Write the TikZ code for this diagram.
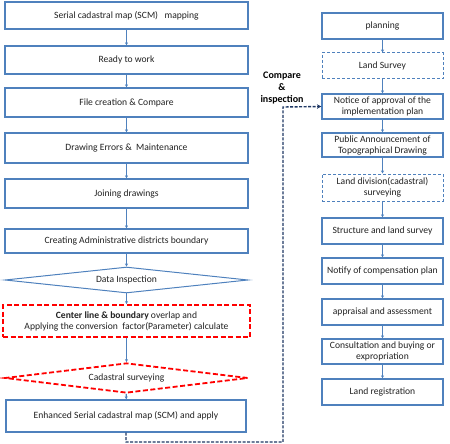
\documentclass[tikz,border=0pt]{standalone}
\usepackage{fontspec}
\setmainfont{Carlito}
\usetikzlibrary{shapes.geometric,arrows.meta}
\definecolor{boxblue}{HTML}{4F81BD}
\definecolor{navy}{HTML}{1F3864}
\definecolor{txt}{HTML}{222222}
\begin{document}
\begin{tikzpicture}[x=1pt,y=-1pt,
  font=\fontsize{9.6}{11}\selectfont, text=txt,
  box/.style={draw=boxblue, line width=1.3pt, fill=white, minimum width=#1, inner sep=1pt, align=center},
  box/.default=243pt,
  lbox/.style={box=121pt},
  dbox/.style={lbox, dash pattern=on 3pt off 2pt, line width=1pt},
  dia/.style={draw=boxblue, line width=1pt, diamond, aspect=9, minimum width=243pt, inner sep=0pt},
  flow/.style={draw=boxblue, line width=1.1pt, -{Stealth[length=3pt,width=3pt]}},
  reddash/.style={draw=red, dash pattern=on 5pt off 2.5pt, line width=1.8pt},
]
\useasboundingbox (0,0) rectangle (450,444);
% left column
\node[box, minimum height=27pt] (b1) at (126.5,15.5) {Serial cadastral map (SCM)~~ mapping};
\node[box, minimum height=28pt] (b2) at (126.5,60) {Ready to work};
\node[box, minimum height=29pt] (b3) at (126.5,102.5) {File creation \& Compare};
\node[box, minimum height=30pt] (b4) at (126.5,148) {Drawing Errors \&~ Maintenance};
\node[box, minimum height=29pt] (b5) at (126.5,193.5) {Joining drawings};
\node[box, minimum height=24pt] (b6) at (126.5,241) {Creating Administrative districts boundary};
\node[dia, minimum height=26pt] (d1) at (126.5,280) {Data Inspection};
\node[box=247pt, reddash, minimum height=32pt] (r1) at (126.5,321)
  {\textbf{Center line \& boundary} overlap and\\Applying the conversion~ factor(Parameter) calculate};
\node[dia, reddash, minimum height=30pt] (d2) at (126.5,378) {Cadastral surveying};
\node[box=240pt, minimum height=32pt] (b7) at (126,416) {Enhanced Serial cadastral map (SCM) and apply};
% right column
\node[lbox, minimum height=26pt] (p1) at (382.5,26) {planning};
\node[dbox, minimum height=26pt] (p2) at (382.5,66) {Land Survey};
\node[lbox, minimum height=25pt] (p3) at (382.5,106.5) {Notice of approval of the\\implementation plan};
\node[lbox, minimum height=24pt] (p4) at (382.5,145) {Public Announcement of\\Topographical Drawing};
\node[dbox, minimum height=27pt] (p5) at (382.5,187.5) {Land division(cadastral)\\surveying};
\node[lbox, minimum height=26pt] (p6) at (382.5,231) {Structure and land survey};
\node[lbox, minimum height=26pt] (p7) at (382.5,271) {Notify of compensation plan};
\node[lbox, minimum height=26pt] (p8) at (382.5,312) {appraisal and assessment};
\node[lbox, minimum height=25pt] (p9) at (382.5,351.5) {Consultation and buying or\\expropriation};
\node[lbox, minimum height=26pt] (p10) at (382.5,392) {Land registration};
\node[font=\fontsize{10}{12}\selectfont\bfseries, align=center, text=black] (ci) at (282,88) {Compare\\\&\\inspection};
% arrows
\foreach \a/\b in {b1/b2,b2/b3,b3/b4,b4/b5,b5/b6,b6/d1,d1/r1,r1/d2,d2/b7,
  p1/p2,p2/p3,p3/p4,p4/p5,p5/p6,p6/p7,p7/p8,p8/p9,p9/p10}
  \draw[flow] (\a) -- (\b);
\coordinate (c1) at (126,442);
\coordinate (c2) at (283,442);
\coordinate (c3) at (283,107);
\draw[navy, line width=1.4pt, dash pattern=on 3pt off 1.5pt, -{Stealth[length=4.5pt,width=4.5pt]}]
  (b7.south) -- (c1) -- (c2) -- (c3) -- (p3.west);
\end{tikzpicture}
\end{document}
